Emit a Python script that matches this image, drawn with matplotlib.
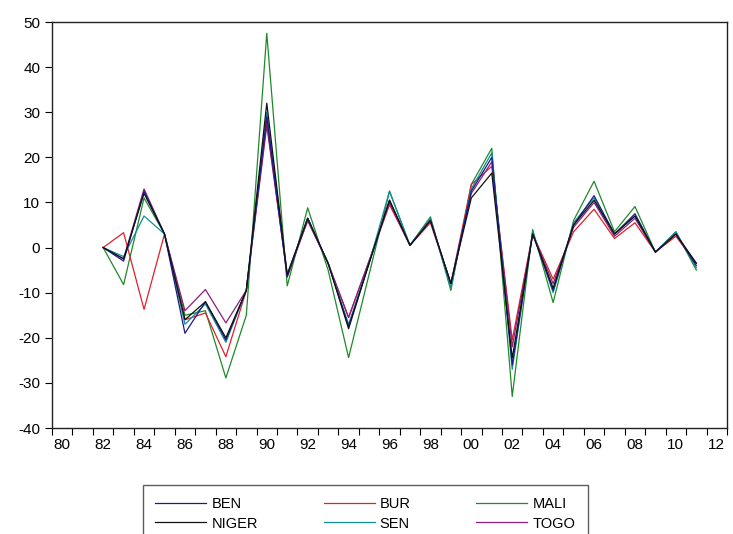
import matplotlib
matplotlib.use("Agg")
import matplotlib.pyplot as plt
import numpy as np
from matplotlib.ticker import FixedLocator, FixedFormatter

plt.rcParams['font.family'] = ['Liberation Sans', 'DejaVu Sans']
plt.rcParams['axes.unicode_minus'] = False

years = list(range(1982, 2012))

BEN = [0, -3, 12.5, 3, -19, -12, -20.5, -9.5, 29, -6.5, 6.5, -3.5, -17.5, -3.5, 10.5,
       0.5, 6, -8, 12.5, 20, -26, 3, -9.5, 5, 11.5, 3, 7.5, -1, 3, -4]
NIGER = [0, -2.5, 12, 3, -16, -12, -20, -9.5, 32, -6, 6.5, -3.5, -18, -3.5, 10.5,
         0.5, 6, -8, 11, 16.5, -24.5, 3, -9, 5, 10.5, 3, 7, -1, 3, -3.5]
BUR = [0, 3.3, -13.7, 3, -16, -14.5, -24.2, -9.5, 28, -6.5, 6, -3.5, -15.5, -3, 9.5,
       0.5, 5.5, -8, 14, 18, -20.5, 3, -7, 3.5, 8.5, 2, 5.5, -1, 2.5, -3.5]
MALI = [0, -8.2, 11, 3, -15, -14, -28.9, -15, 47.5, -8.5, 8.8, -5, -24.4, -6, 12.5,
        0.5, 6.8, -9.5, 14, 22, -33, 4, -12.2, 6, 14.7, 3.5, 9.1, -1, 3.5, -5]
SEN = [0, -2, 7, 3, -17, -12.5, -21, -9.5, 30, -6, 6.5, -3.5, -17, -3.5, 12.5,
       0.5, 6.5, -9, 13, 21, -27, 3.5, -10, 5.5, 11, 3, 7, -1, 3.5, -4.5]
TOGO = [0, -2.5, 13, 3, -14, -9.3, -16.7, -9.5, 27, -6, 6, -3.5, -15.5, -3, 10,
        0.5, 6, -8, 12, 19, -22, 3, -8, 4.5, 10, 2.5, 6.5, -1, 3, -3.5]

series = {
    'BEN': (BEN, '#1a1a8c'),
    'BUR': (BUR, '#e0202a'),
    'MALI': (MALI, '#1e8a2a'),
    'NIGER': (NIGER, '#111111'),
    'SEN': (SEN, '#108f99'),
    'TOGO': (TOGO, '#8a1f7a'),
}

fig = plt.figure(figsize=(7.33, 5.34), dpi=100)
ax = fig.add_axes([52/733, 106/534, (727-52)/733, (428-22)/534])

lines = {}
for name in ['MALI', 'BUR', 'TOGO', 'SEN', 'BEN', 'NIGER']:
    vals, col = series[name]
    ln, = ax.plot(years, vals, color=col, lw=0.9, label=name)
    lines[name] = ln

ax.set_xlim(1979.5, 2012.5)
ax.set_ylim(-40, 50)
ax.set_yticks(np.arange(-40, 51, 10))
ax.tick_params(axis='y', direction='out', length=5, labelsize=11, width=0.8)

major = list(range(1980, 2013, 2))
ax.xaxis.set_major_locator(FixedLocator(major))
ax.xaxis.set_major_formatter(FixedFormatter([f"{y % 100:02d}" for y in major]))
ax.xaxis.set_minor_locator(FixedLocator([y + 0.5 for y in range(1979, 2013)]))
ax.tick_params(axis='x', which='major', length=0, labelsize=11, pad=7)
ax.tick_params(axis='x', which='minor', direction='out', length=5, width=0.8)

for s in ax.spines.values():
    s.set_linewidth(1.0)
    s.set_color('#222222')

order = ['BEN', 'NIGER', 'BUR', 'SEN', 'MALI', 'TOGO']
leg = fig.legend([lines[n] for n in order], order, ncol=3,
                 loc='upper left', bbox_to_anchor=(143/733, 1 - 485/534),
                 frameon=True, fancybox=False, edgecolor='#333333',
                 fontsize=10.5, handlelength=3.5, handletextpad=0.35,
                 columnspacing=4.5, labelspacing=0.35, borderpad=0.85,
                 borderaxespad=0)
leg.get_frame().set_linewidth(1.0)

fig.savefig('out.png', dpi=100)
